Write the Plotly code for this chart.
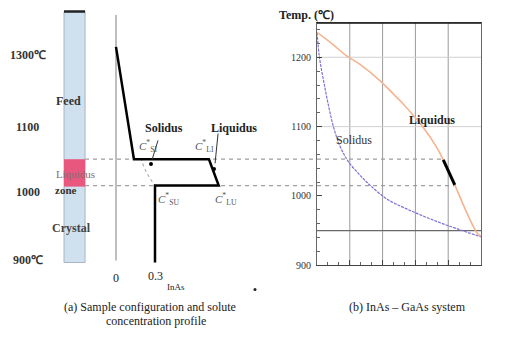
import plotly.graph_objects as go

W, H = 519, 345
SERIF = "Liberation Serif"

# ---------------- data: right panel (InAs - GaAs phase diagram) ----------------
liq_x = [0, 0.1, 0.18, 0.26, 0.39, 0.47, 0.52, 0.65, 0.73, 0.77, 0.84, 0.915, 0.975, 1.0]
liq_T = [1236, 1218, 1202, 1190, 1165, 1146, 1134, 1098, 1070, 1052, 1016, 975, 947, 942]
sol_x = [0, 0.015, 0.045, 0.075, 0.1, 0.14, 0.19, 0.27, 0.33, 0.43, 0.55, 0.7, 0.85, 1.0]
sol_T = [1236, 1200, 1160, 1125, 1100, 1072, 1050, 1028, 1014, 995, 981, 966, 953, 941]
zone_x = [0.77, 0.84]          # growth-zone segment on the liquidus
zone_T = [1052, 1016]
grid_x = [0.2, 0.4, 0.6, 0.8]
grid_T_light = [1200, 1100]
grid_T_dark = [950]
ytick_vals = [900, 1000, 1100, 1200]
ytick_text = ["900", "1000", "1100", "1200"]

# ---------------- data: left panel (solute concentration profile) ----------------
prof_c = [0, 0.138, 0.715, 0.79, 0.3, 0.3]
prof_T = [1215, 1053, 1053, 1015, 1015, 904]
sol_dot_c = [0.19, 0.215, 0.25, 0.3]
sol_dot_T = [1055, 1042, 1029, 1015]
T_zone_top = 1053
T_zone_bot = 1015
left_labels = ["1300℃", "1100", "1000", "900℃"]
left_label_T = [1203, 1100, 1005, 907]

# ---------------- geometry ----------------
R_X0, R_X1 = 317, 481        # right plot area (px)
R_Y0, R_Y1 = 23, 270
T_MIN, T_MAX = 900, 1250
ppd = (R_Y1 - R_Y0) / (T_MAX - T_MIN)
L_ZERO, L_PPU = 116, 130      # left panel: px of c=0, px per unit
yl = [T_MIN - (H - R_Y1) / ppd, T_MAX + R_Y0 / ppd]
xl = [-L_ZERO / L_PPU, (0.5 * W - L_ZERO) / L_PPU]
COL_C = [-0.4, -0.238]
COL_T = [904, 1266]


def x2paper(v):
    return (R_X0 + v * (R_X1 - R_X0)) / W


fig = go.Figure()

# left panel traces
fig.add_trace(go.Scatter(x=[0, 0], y=[907, 1261], mode="lines",
                         line=dict(color="#a8a8a8", width=1.5), xaxis="x", yaxis="y"))
fig.add_trace(go.Scatter(x=sol_dot_c, y=sol_dot_T, mode="lines", line_shape="spline",
                         line=dict(color="#b0b0b0", width=1.2, dash="dot"), xaxis="x", yaxis="y"))
fig.add_trace(go.Scatter(x=prof_c, y=prof_T, mode="lines",
                         line=dict(color="black", width=2.5), xaxis="x", yaxis="y"))
# pointers
fig.add_trace(go.Scatter(x=[0.323, 0.277], y=[1080, 1052], mode="lines",
                         line=dict(color="#333", width=1), xaxis="x", yaxis="y"))
fig.add_trace(go.Scatter(x=[0.785, 0.762], y=[1090, 1047], mode="lines",
                         line=dict(color="#333", width=1), xaxis="x", yaxis="y"))
fig.add_trace(go.Scatter(x=[0.269, 0.754], y=[1046, 1039], mode="markers",
                         marker=dict(color="black", size=4), xaxis="x", yaxis="y"))
fig.add_trace(go.Scatter(x=[1.069], y=[865], mode="markers",
                         marker=dict(color="#222", size=3), xaxis="x", yaxis="y"))

# right panel traces
fig.add_trace(go.Scatter(x=sol_x, y=sol_T, mode="lines", line_shape="spline",
                         line=dict(color="#7b72d6", width=1.2, dash="3px,1px"), xaxis="x2", yaxis="y2"))
fig.add_trace(go.Scatter(x=liq_x, y=liq_T, mode="lines", line_shape="spline",
                         line=dict(color="#f6b390", width=1.6), xaxis="x2", yaxis="y2"))
fig.add_trace(go.Scatter(x=zone_x, y=zone_T, mode="lines",
                         line=dict(color="black", width=3), xaxis="x2", yaxis="y2"))

shapes = []
# sample column
shapes.append(dict(type="rect", xref="x", yref="y", x0=COL_C[0], x1=COL_C[1], y0=COL_T[0], y1=COL_T[1],
                   fillcolor="#cfe0ee", line=dict(color="#a8b4bf", width=1), layer="below"))
shapes.append(dict(type="rect", xref="x", yref="y", x0=COL_C[0], x1=COL_C[1], y0=T_zone_bot - 1.5, y1=T_zone_top,
                   fillcolor="#e8587e", line=dict(width=0), layer="below"))
shapes.append(dict(type="line", xref="x", yref="y", x0=COL_C[0], x1=COL_C[1], y0=COL_T[1], y1=COL_T[1],
                   line=dict(color="#222", width=2.5)))
# dashed guides across both panels
for T, xr in [(T_zone_top, zone_x[0]), (T_zone_bot, zone_x[1])]:
    shapes.append(dict(type="line", xref="paper", yref="y", x0=85 / W, x1=x2paper(xr), y0=T, y1=T,
                       line=dict(color="#a0a0a0", width=1.2, dash="4px,4px"), layer="below"))
# right panel grid
for gx in grid_x:
    shapes.append(dict(type="line", xref="x2", yref="y2", x0=gx, x1=gx, y0=T_MIN, y1=T_MAX,
                       line=dict(color="#9a9a9a", width=1), layer="below"))
for gT in grid_T_light:
    shapes.append(dict(type="line", xref="x2", yref="y2", x0=0, x1=1, y0=gT, y1=gT,
                       line=dict(color="#d0d0d0", width=1), layer="below"))
for gT in grid_T_dark:
    shapes.append(dict(type="line", xref="x2", yref="y2", x0=0, x1=1, y0=gT, y1=gT,
                       line=dict(color="#6a6a6a", width=1.2), layer="below"))
shapes.append(dict(type="line", xref="x2", yref="y2", x0=0, x1=1, y0=T_MAX, y1=T_MAX,
                   line=dict(color="#111", width=2.5)))

ann = []


def A(text, x, y, xref="x", yref="y", size=12, bold=False, color="#222", xanchor="center"):
    t = text
    if bold:
        t = "<b>" + t + "</b>"
    ann.append(dict(text=t, x=x, y=y, xref=xref, yref=yref, showarrow=False, xanchor=xanchor,
                    yanchor="middle", font=dict(family=SERIF, size=size, color=color)))


for lab, T in zip(left_labels, left_label_T):
    A(lab, -0.677, T, size=12, bold=True, color="#333")
A("Feed", -0.369, 1137, bold=True, color="#333")
A("Liquidus", -0.315, 1031, size=11, color="#8a6a72")
A("zone", -0.385, 1009, size=11, bold=True, color="#333")
A("Crystal", -0.346, 954, size=12, bold=True, color="#444")
A("Solidus", 0.369, 1098, bold=True)
A("Liquidus", 0.908, 1098, bold=True)
A("<i>C</i><sup>*</sup><sub>SI</sub>", 0.246, 1072, size=11, color="#555")
A("<i>C</i><sup>*</sup><sub>LI</sub>", 0.677, 1072, size=11, color="#555")
A("<i>C</i><sup>*</sup><sub>SU</sub>", 0.4, 996, size=11, color="#555")
A("<i>C</i><sup>*</sup><sub>LU</sub>", 0.846, 996, size=11, color="#555")
A("0", 0, 882, size=12)
A("0.3", 0.3, 885, size=12)
A("InAs", 0.46, 869, size=9)

A("Temp. (℃)", 306 / W, 1 - 15 / H, xref="paper", yref="paper", size=12, bold=True)
A("Liquidus", 0.70, 1110, xref="x2", yref="y2", bold=True)
A("Solidus", 0.226, 1080, xref="x2", yref="y2", size=12, color="#333")
A("0 (GaAs)", 0, 881, xref="x2", yref="y2", size=10, xanchor="left")
A("1 (InAs)", 1, 881, xref="x2", yref="y2", size=10, xanchor="left")

A("(a) Sample configuration and solute", 150 / W, 1 - 312 / H, xref="paper", yref="paper", size=12)
A("concentration profile", 156 / W, 1 - 327 / H, xref="paper", yref="paper", size=12)
A("(b) InAs – GaAs system", 407 / W, 1 - 312 / H, xref="paper", yref="paper", size=12)

fig.update_layout(
    width=W, height=H, margin=dict(l=0, r=0, t=0, b=0),
    paper_bgcolor="white", plot_bgcolor="rgba(0,0,0,0)", showlegend=False,
    shapes=shapes, annotations=ann,
    xaxis=dict(domain=[0, 0.5], range=xl, visible=False, fixedrange=True),
    yaxis=dict(domain=[0, 1], range=yl, visible=False, fixedrange=True),
    xaxis2=dict(domain=[R_X0 / W, R_X1 / W], range=[0, 1], anchor="y2", showgrid=False, zeroline=False,
                showline=True, linecolor="#444", linewidth=1.2, mirror=True,
                tickvals=[0, 0.2, 0.4, 0.6, 0.8, 1.0], ticks="inside", ticklen=5, tickcolor="#444",
                showticklabels=False,
                minor=dict(dtick=0.2 / 3, tick0=0, ticks="inside", ticklen=3, tickcolor="#666")),
    yaxis2=dict(domain=[(H - R_Y1) / H, (H - R_Y0) / H], range=[T_MIN, T_MAX], anchor="x2",
                showgrid=False, zeroline=False, showline=True, linecolor="#666", linewidth=1.2, mirror=True,
                tickvals=ytick_vals, ticktext=ytick_text, ticks="inside", ticklen=5, tickcolor="#444",
                tickfont=dict(family=SERIF, size=10, color="#333"), ticklabelstandoff=3,
                minor=dict(dtick=20, tick0=900, ticks="inside", ticklen=3, tickcolor="#666")),
)

fig.write_html("out.html")
